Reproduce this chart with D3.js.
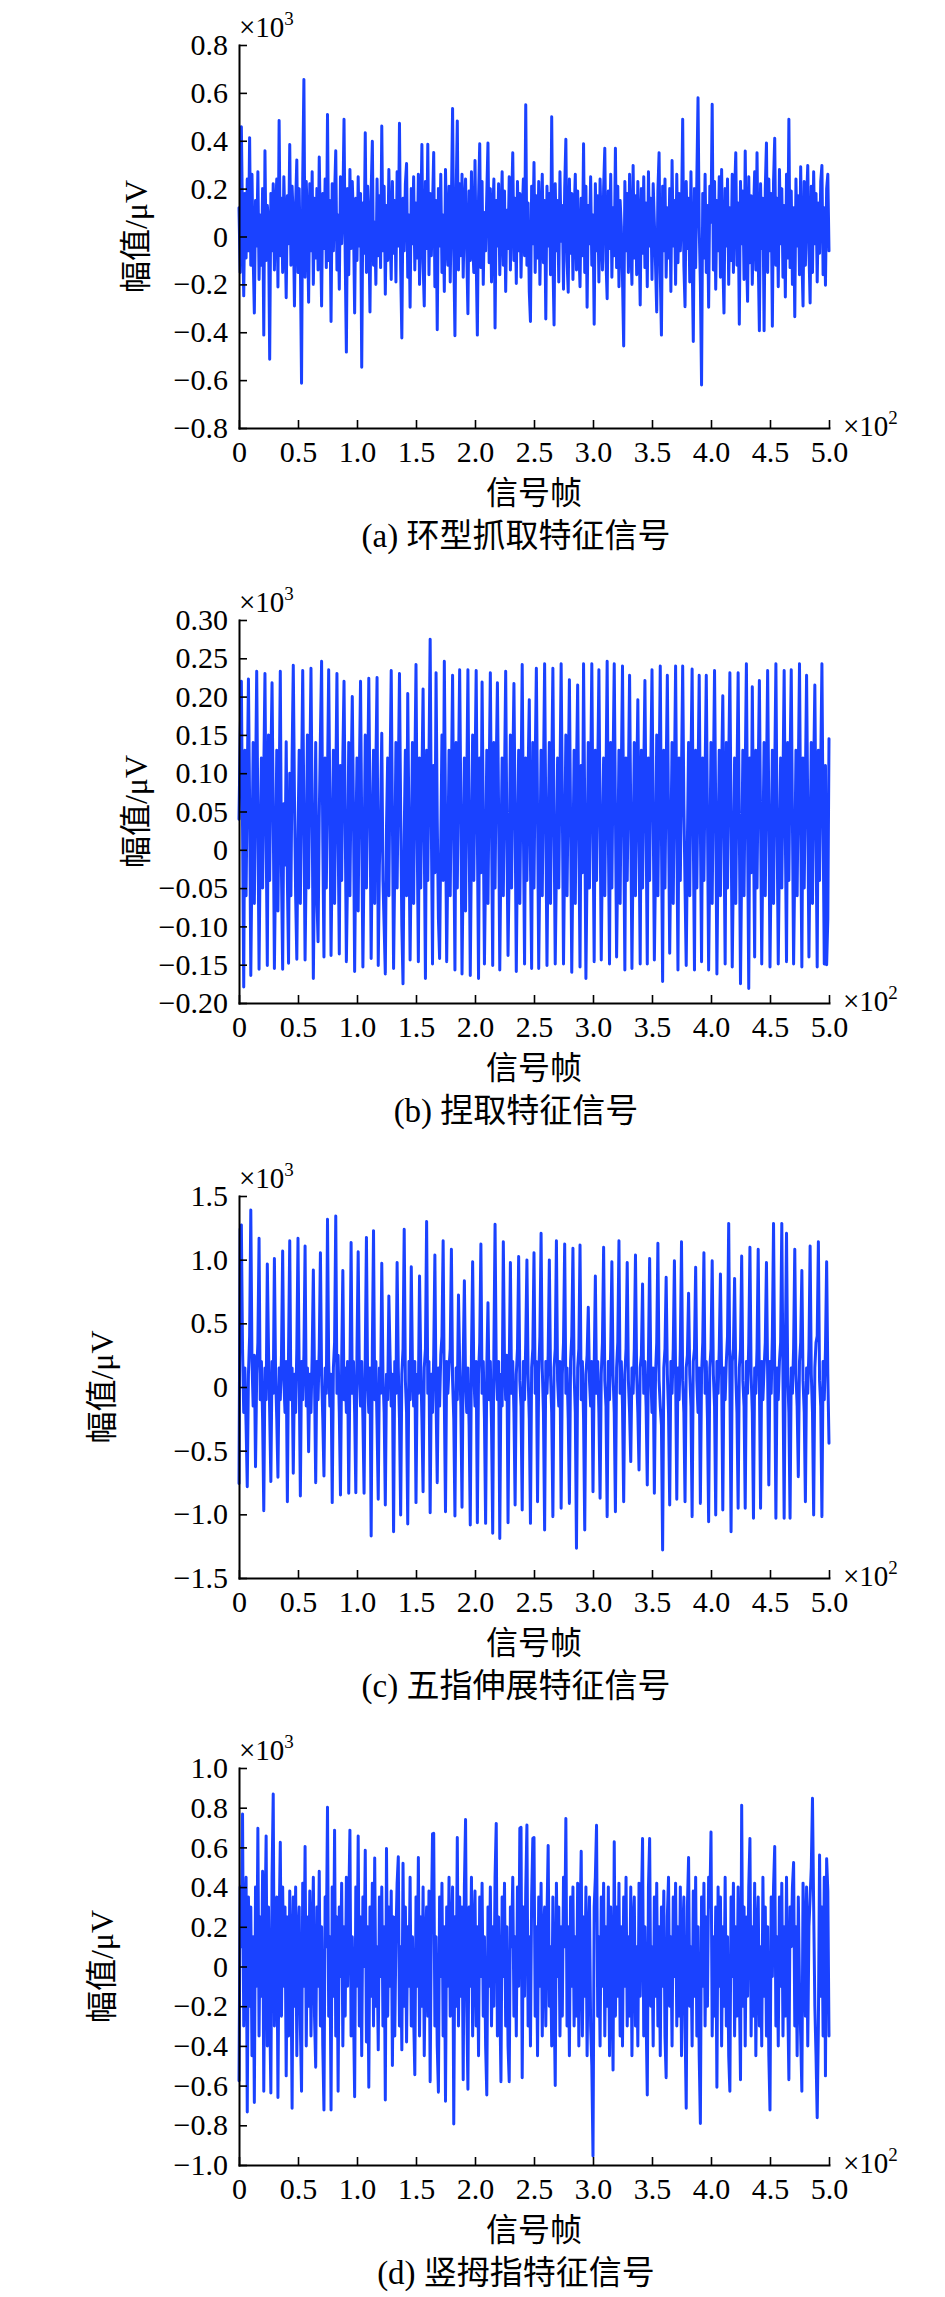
<!DOCTYPE html>
<html><head><meta charset="utf-8">
<script src="https://cdn.jsdelivr.net/npm/d3@7"></script>
<style>body{margin:0;background:#fff}</style>
</head><body>
<svg id="chart" width="945" height="2297" xmlns="http://www.w3.org/2000/svg"></svg>
<script>
// ---------------- data ----------------
const frameMax = 500;
const xTicks = [0, 50, 100, 150, 200, 250, 300, 350, 400, 450, 500];
const xTickLabels = ["0", "0.5", "1.0", "1.5", "2.0", "2.5", "3.0", "3.5", "4.0", "4.5", "5.0"];
const xTitle = "信号帧";
const yTitle = "幅值/μV";

// (a) 环型抓取特征信号, μV
const seriesA = [120,-150,458,60,-248,180,-90,240,-60,413,
-120,260,-80,-320,150,-40,270,-180,90,-120,
200,-412,358,-100,130,60,-513,180,-60,220,
-140,110,240,-211,485,-80,160,-150,250,40,
-256,170,-30,384,-120,210,70,-290,140,320,
-150,200,-100,-613,240,656,-170,230,60,-275,
220,-60,270,-200,160,-90,200,-140,332,30,
-290,180,-50,240,-130,510,-100,150,-355,220,
-60,170,358,-140,90,-220,250,-30,120,490,
-90,-483,200,-160,280,-50,230,70,-320,160,
-100,250,-40,180,-546,140,-70,433,-150,210,
40,-315,190,398,-120,60,-200,240,-80,170,
-130,462,-60,210,-241,130,-100,280,20,-180,
230,-70,150,-190,270,-40,473,-130,-424,160,
-60,220,305,-170,90,-296,200,-30,250,-140,
140,-90,260,-200,60,384,-110,-290,230,-50,
385,-160,180,-80,120,351,-210,150,-390,200,
-40,260,-150,90,-230,280,10,-120,210,-190,
140,535,-60,-415,170,483,-140,220,-80,260,
-170,120,240,-60,-323,190,-100,270,-20,-150,
317,-90,-412,160,387,-130,230,-200,100,-60,
180,391,-110,200,-190,80,240,-382,150,-40,
220,-160,70,270,-120,190,-230,110,-50,250,
-140,130,350,-100,160,-196,230,-60,180,-170,
90,240,-80,550,-120,140,-230,-355,210,-30,
309,-150,170,-90,230,-200,60,260,-110,150,
-345,210,-40,180,-160,500,-90,-370,220,-60,
150,-190,270,-20,130,-220,200,406,-100,-233,
240,-70,180,-180,90,260,-140,190,-40,-210,
160,-80,387,-150,210,-296,130,-30,250,-120,
90,-367,220,-60,170,-190,240,30,-140,200,
369,-100,-260,190,-50,260,-170,120,-80,369,
-130,210,-210,150,40,-180,-457,230,-60,180,
-150,260,-20,-200,297,-90,170,-160,230,20,
-286,200,-70,250,-130,140,-210,270,-40,160,
-180,220,60,-120,-315,190,350,-150,-412,210,
-60,240,-170,120,-90,200,-230,317,-40,150,
-200,260,-110,180,-60,90,490,-120,-293,230,
-50,160,-190,270,-80,-439,200,-130,240,580,
40,-200,-620,180,-90,260,-150,130,-296,210,
60,552,-140,230,-220,150,-60,250,-170,280,
-90,-320,200,-40,240,-200,120,-100,260,-150,
180,350,-120,140,-367,230,-30,190,-180,357,
-60,-271,250,-110,170,-200,90,270,-140,350,
-80,-394,220,-50,160,-394,200,391,-150,240,
-60,180,-375,230,410,-120,160,-210,280,-30,
200,-170,130,-253,260,-90,490,-130,190,-200,
120,-335,240,-40,170,-160,291,-80,-290,230,
-120,150,297,-60,-278,210,-150,270,-30,180,
-190,140,-70,230,297,-160,120,-204,200,260,
-60];
const yTicksA = [-800, -600, -400, -200, 0, 200, 400, 600, 800];
const yTickLabelsA = ["−0.8", "−0.6", "−0.4", "−0.2", "0", "0.2", "0.4", "0.6", "0.8"];
const captionA = "(a) 环型抓取特征信号";

// (b) 捏取特征信号, μV (one line per oscillation cycle)
const seriesB = [40,150,
220,30,-179,130,-60,90,
223,60,-164,-10,140,-70,80,
233,40,-156,10,120,-50,100,
230,20,-151,150,-40,110,
218,50,-155,-20,130,-80,70,
233,-30,-156,60,-20,
141,-40,-148,100,-60,120,
241,70,-60,-143,20,130,-70,90,
234,40,-144,-10,150,-50,100,
237,50,-168,-20,140,-60,-120,40,150,
246,10,-140,120,-50,90,
235,60,-138,0,130,-70,80,
230,20,-136,110,-40,120,
220,40,-146,-30,140,-60,90,
200,50,-159,10,120,-80,100,
220,30,-153,-10,150,-50,80,
224,60,-142,20,130,-70,110,
225,-151,-20,50,
152,-40,-100,-162,30,120,-60,100,
234,40,-155,-20,140,-50,90,
230,50,-100,-175,20,130,-60,
204,30,-144,0,140,-70,100,
242,20,-146,120,-50,90,
210,10,-168,130,-40,120,
275,30,-149,110,-30,
231,40,-90,-142,10,150,-40,
246,50,-146,-10,130,-60,90,
228,20,-157,140,-50,100,
235,60,-162,-20,120,-80,80,
235,30,-164,10,150,-40,100,
234,20,-168,120,-30,
219,40,-149,-20,130,-70,90,
231,30,-151,140,-50,110,
218,50,-157,0,120,-60,90,
233,20,-138,-20,150,-50,100,
217,40,-159,10,130,-70,80,
242,30,-149,120,-40,100,
196,-20,-155,140,-50,110,
237,50,-155,-10,130,-60,90,
243,40,-151,20,140,-70,100,
237,30,-149,-20,120,-50,90,
243,60,-149,0,150,-60,80,
222,40,-160,-10,130,-70,100,
215,20,-153,110,-30,
243,50,-168,-20,140,-50,90,
243,30,-146,130,-40,100,
235,40,-144,10,120,-60,90,
246,20,-149,140,-50,110,
243,50,-140,-10,130,-70,100,
240,30,-157,120,-40,90,
228,40,-155,0,140,-60,80,
196,20,-149,130,-50,100,
221,30,-149,120,-40,110,
235,50,-144,-20,150,-60,90,
240,20,-172,130,-50,100,
228,40,-135,10,140,-70,90,
240,30,-157,120,-40,100,
240,60,-50,-151,10,140,-60,110,
236,20,-157,130,-50,90,
228,30,-146,120,-40,100,
228,40,-157,-10,140,-70,90,
234,50,-162,0,130,-60,100,
201,20,-149,140,-50,110,
231,40,-153,-20,120,-70,90,
231,30,-175,-20,130,-60,100,
243,20,-181,120,-30,
213,30,-140,130,-50,100,
221,40,-149,10,140,-60,90,
234,50,-153,-10,130,-70,100,
243,30,-149,0,120,-50,90,
234,20,-146,140,-40,110,
235,40,-149,-20,130,-60,100,
243,30,-153,120,-50,90,
228,50,-140,10,140,-70,100,
215,20,-153,130,-40,110,
243,30,-149,110,-150,-90,
145];
const yTicksB = [-200, -150, -100, -50, 0, 50, 100, 150, 200, 250, 300];
const yTickLabelsB = ["−0.20", "−0.15", "−0.10", "−0.05", "0", "0.05", "0.10", "0.15", "0.20", "0.25", "0.30"];
const captionB = "(b) 捏取特征信号";

// (c) 五指伸展特征信号, μV
const seriesC = [-757,1240,1272,300,-200,150,-300,-783,100,400,
1390,200,-150,250,-626,100,350,1168,-100,200,
-250,-971,150,-100,966,300,-200,-743,200,-50,
1010,100,-250,-709,150,-100,250,1068,50,-200,
200,-901,300,1149,-100,150,-678,100,-200,300,
1168,100,-856,200,-100,250,1107,-150,150,-508,
100,-200,250,919,50,-751,200,-100,300,1055,
100,-250,-699,150,-50,1317,200,-150,100,-908,
150,350,1343,-50,250,-200,-848,200,914,-100,
150,-200,200,-835,100,1134,-50,200,-200,-830,
300,1063,100,-150,200,-250,-835,250,1175,50,
-200,150,-1170,300,1228,-100,200,-300,-882,150,
-50,971,100,-200,-927,100,-100,715,250,-150,
100,-1136,200,-50,977,150,-250,-1005,100,300,
1238,50,-200,-1076,200,-100,945,150,-150,200,
-908,100,-50,872,200,-250,-822,150,300,1299,
-50,200,-987,100,-200,250,1037,-100,-751,150,
-150,250,400,1149,-100,-979,200,-50,150,300,
1081,50,-250,-1013,150,-100,723,200,-150,-945,
200,835,50,-200,150,-300,-1084,250,984,100,
-150,200,-1066,100,350,1123,-50,200,-250,-1071,
150,662,-100,200,-300,-1149,300,1278,150,-100,
200,-1189,100,-150,1141,200,-100,250,-1066,150,
977,-50,200,-200,-927,100,300,1024,50,-150,
-966,200,-100,350,997,100,-250,-1071,150,300,
1055,-50,200,-901,100,400,1207,150,-200,-1123,
200,-50,250,997,100,-200,-1018,150,300,1149,
50,-150,200,-953,100,350,1123,-50,150,-250,
-914,200,400,1089,100,-200,-1267,150,300,1115,
-100,200,-250,-1123,100,250,626,50,-150,200,
-822,150,872,-50,200,-200,-874,100,350,1097,
50,-150,-1018,200,-100,300,984,100,-200,-979,
150,350,1149,-50,200,-150,-901,100,300,977,
50,-200,-586,150,-50,300,1037,100,-200,-652,
150,250,809,-50,200,-150,-770,250,1010,100,
-200,150,-835,100,350,1128,50,-150,-300,-1280,
150,300,861,100,-200,-927,200,-50,300,992,
100,-882,150,-100,300,1141,50,-200,-901,150,
250,736,100,-150,-1018,200,300,940,50,-200,
150,-914,100,350,1055,-50,200,-250,-1058,150,
300,992,100,-150,-1005,200,-50,300,887,100,
-966,150,-100,200,400,1285,50,-1136,200,300,
853,100,-200,-953,150,300,1029,50,-150,-953,
200,-50,350,1097,100,-200,-1031,150,-50,300,
1081,50,-953,200,-100,150,350,977,100,-770,
200,-50,400,1285,100,-1031,150,-100,200,350,
1285,50,-1031,300,1207,100,-200,-1031,150,-50,
300,1081,100,-150,-704,200,350,914,50,-200,
-901,150,-50,300,1107,100,-200,-1005,150,350,
400,1141,50,-150,-1018,200,-100,300,984,100,
-442];
const yTicksC = [-1500, -1000, -500, 0, 500, 1000, 1500];
const yTickLabelsC = ["−1.5", "−1.0", "−0.5", "0", "0.5", "1.0", "1.5"];
const captionC = "(c) 五指伸展特征信号";

// (d) 竖拇指特征信号, μV
const seriesD = [-576,400,100,768,-300,200,450,-733,350,-200,
300,-450,150,-685,400,-100,697,-350,250,-150,
480,-628,200,658,-400,300,-200,-637,450,869,
-300,100,350,-660,200,626,-250,400,-100,300,
-551,250,-350,380,50,-714,350,-200,400,-450,
150,300,-300,-628,420,-100,604,-400,250,-200,
380,-350,100,450,-250,-507,300,-100,480,-300,
200,-400,-723,350,100,802,-250,150,-723,400,
-150,687,-350,250,-628,300,-50,420,-400,200,
-250,450,-100,300,687,-350,150,-200,-656,400,
-100,658,-300,250,-450,350,0,586,-380,200,
-608,300,-150,420,-300,547,-200,100,-420,350,
-50,400,-300,200,-672,595,-250,300,-100,380,
-499,250,-350,150,420,553,-300,100,-420,520,
-200,300,-380,200,-100,450,-300,150,-250,-545,
350,-100,549,-350,250,-200,400,-450,100,300,
-250,380,-580,200,668,671,-300,150,-400,-633,
350,-50,420,-350,200,-679,300,-100,450,-250,
100,400,-794,250,-200,650,-300,350,-150,300,
-570,400,741,-200,-618,300,-100,450,-350,150,
380,-300,200,-450,350,-50,420,-250,150,-400,
-647,300,-100,400,-300,200,-200,450,721,-350,
250,-150,-580,350,-50,420,-300,200,-400,-580,
300,100,450,-250,150,-350,400,-100,697,701,
-560,300,-150,380,713,-300,150,-400,350,645,
650,-250,200,-450,350,-100,420,-350,150,300,
-300,250,610,-200,100,-400,350,-150,-599,420,
-50,300,-350,200,-250,450,100,745,-300,200,
-450,350,-100,400,-300,150,-250,420,-400,200,
581,-350,250,-150,400,-450,100,350,-300,-500,
-954,300,450,712,-250,150,-400,350,-100,420,
-350,200,-200,400,-450,300,-50,-522,629,-250,
300,-150,420,-350,200,-400,350,-100,450,-300,
150,-250,400,-450,200,350,-300,100,-400,420,
-150,300,645,-350,200,-250,-647,400,645,-200,
100,-400,350,-150,420,-300,200,-450,300,-100,
380,-350,-560,250,450,-200,150,-400,350,-50,
420,-300,200,-250,400,-450,150,350,-300,-714,
300,549,-200,100,-400,380,-150,450,-350,200,
-450,-791,350,-100,420,-300,250,-200,450,300,
677,-350,150,-250,300,-608,400,-100,350,-400,
200,-200,450,-300,150,-450,-628,350,-50,420,
-350,200,-250,400,-100,-570,812,-200,300,-400,
250,-150,400,645,-350,200,-250,420,-450,150,
350,-300,100,-400,450,-150,300,-350,200,-450,
-723,350,-50,400,604,-300,150,-400,350,-100,
420,-350,200,-250,450,-150,-570,300,100,400,
524,-300,200,-450,350,-100,-350,-628,420,150,
-250,400,-400,200,350,500,848,300,-200,-450,
-762,-300,562,-150,300,-350,450,-551,543,380,
-350];
const yTicksD = [-1000, -800, -600, -400, -200, 0, 200, 400, 600, 800, 1000];
const yTickLabelsD = ["−1.0", "−0.8", "−0.6", "−0.4", "−0.2", "0", "0.2", "0.4", "0.6", "0.8", "1.0"];
const captionD = "(d) 竖拇指特征信号";

// ---------------- layout & style ----------------
const SERIF = "'Liberation Serif','Times New Roman','Noto Sans CJK SC',serif";
const MIXED = "'Liberation Serif','Noto Sans CJK SC',serif";
const BLUE = "#1a42ff";
const X0 = 239, X1 = 829;
const layout = [
  {top: 45,   bottom: 428,  titleX: 136},
  {top: 620,  bottom: 1003, titleX: 136},
  {top: 1196, bottom: 1578, titleX: 102},
  {top: 1768, bottom: 2165, titleX: 102}
];
const panels = [
  {values: seriesA, ticks: yTicksA, labels: yTickLabelsA, caption: captionA},
  {values: seriesB, ticks: yTicksB, labels: yTickLabelsB, caption: captionB},
  {values: seriesC, ticks: yTicksC, labels: yTickLabelsC, caption: captionC},
  {values: seriesD, ticks: yTicksD, labels: yTickLabelsD, caption: captionD}
];

const svg = d3.select("#chart");
svg.append("rect").attr("width", 945).attr("height", 2297).attr("fill", "#fff");

panels.forEach((p, k) => {
  const L = layout[k];
  const x = d3.scaleLinear().domain([0, frameMax]).range([X0, X1]);
  const y = d3.scaleLinear().domain([p.ticks[0], p.ticks[p.ticks.length - 1]]).range([L.bottom, L.top]);
  const g = svg.append("g");

  const line = d3.line().x((d, i) => x(i)).y(d => y(d));
  g.append("path").datum(p.values)
    .attr("d", line).attr("fill", "none")
    .attr("stroke", BLUE).attr("stroke-width", 3)
    .attr("stroke-linejoin", "round").attr("stroke-linecap", "round");

  const yAxis = d3.axisLeft(y).tickValues(p.ticks).tickFormat((d, i) => p.labels[i])
    .tickSizeInner(-8).tickSizeOuter(0).tickPadding(11);
  const gy = g.append("g").attr("transform", `translate(${X0},0)`).call(yAxis);

  const xAxis = d3.axisBottom(x).tickValues(xTicks).tickFormat((d, i) => xTickLabels[i])
    .tickSizeInner(-8).tickSizeOuter(0).tickPadding(13);
  const gx = g.append("g").attr("transform", `translate(0,${L.bottom})`).call(xAxis);

  [gy, gx].forEach(a => {
    a.attr("font-family", SERIF).attr("font-size", 30);
    a.select(".domain").attr("stroke", "#000").attr("stroke-width", 2).attr("stroke-linecap", "square");
    a.selectAll(".tick line").attr("stroke", "#000").attr("stroke-width", 1.6);
    a.selectAll(".tick text").attr("fill", "#000");
  });

  // ×10^3 multiplier on the y axis
  const m = g.append("text").attr("x", X0).attr("y", L.top - 8)
    .attr("font-family", SERIF).attr("font-size", 29).attr("fill", "#000");
  m.append("tspan").text("×10");
  m.append("tspan").attr("font-size", 19).attr("dy", -12).text("3");

  // ×10^2 multiplier on the x axis
  const m2 = g.append("text").attr("x", X1 + 14).attr("y", L.bottom + 8)
    .attr("font-family", SERIF).attr("font-size", 29).attr("fill", "#000");
  m2.append("tspan").text("×10");
  m2.append("tspan").attr("font-size", 19).attr("dy", -12).text("2");

  // y title
  g.append("text")
    .attr("transform", `translate(${L.titleX},${(L.top + L.bottom) / 2}) rotate(-90)`)
    .attr("text-anchor", "middle").attr("dominant-baseline", "central")
    .attr("font-family", MIXED).attr("font-size", 32).attr("fill", "#000")
    .text(yTitle);

  // x title
  g.append("text").attr("x", (X0 + X1) / 2).attr("y", L.bottom + 62)
    .attr("text-anchor", "middle").attr("dominant-baseline", "central")
    .attr("font-family", "'Noto Sans CJK SC',sans-serif").attr("font-size", 32).attr("fill", "#000")
    .text(xTitle);

  // caption
  g.append("text").attr("x", 516).attr("y", L.bottom + 108)
    .attr("text-anchor", "middle").attr("dominant-baseline", "central")
    .attr("font-family", MIXED).attr("font-size", 33).attr("fill", "#000")
    .text(p.caption);
});
</script>
</body></html>
